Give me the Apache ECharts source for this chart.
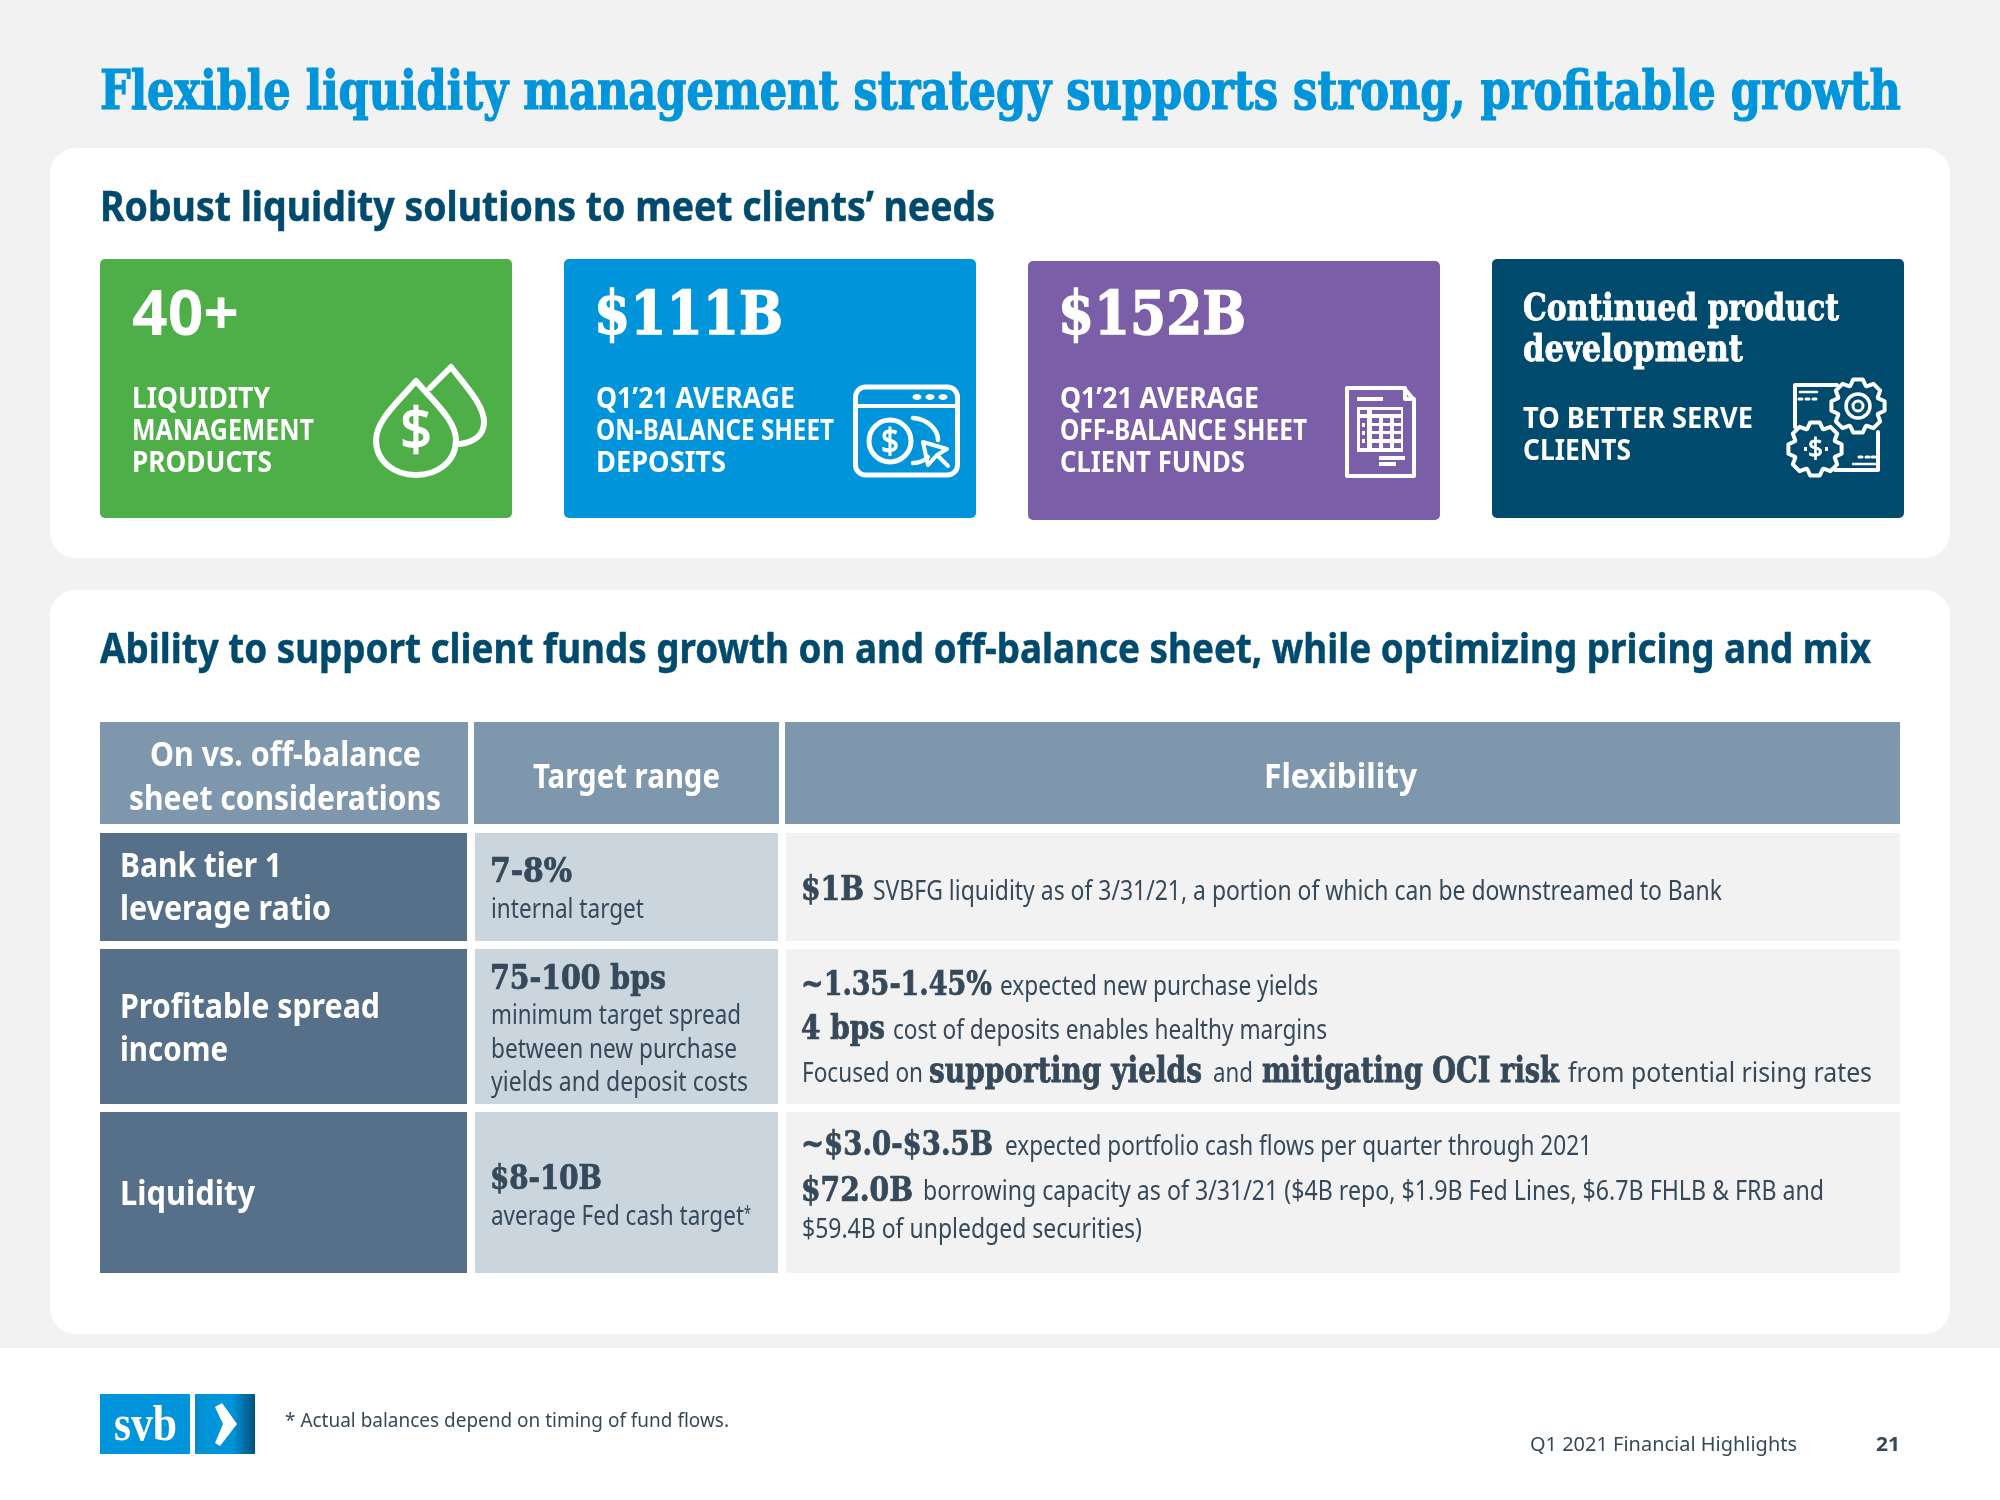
<!DOCTYPE html>
<html>
<head>
<meta charset="utf-8">
<style>html,body{margin:0;padding:0;background:#f2f2f2}#c{width:2000px;height:1500px}</style>
<script src="https://cdn.jsdelivr.net/npm/echarts@6/dist/echarts.min.js"></script>
</head>
<body>
<div id="c"></div>
<script>
// ---------- content ----------
const pageTitle = 'Flexible liquidity management strategy supports strong, profitable growth';
const sectionHeads = ['Robust liquidity solutions to meet clients\u2019 needs',
  'Ability to support client funds growth on and off-balance sheet, while optimizing pricing and mix'];
const cardValues = ['40+', '$111B', '$152B'];
const cardHeadLines = ['Continued product', 'development'];
const cardLabels = ['LIQUIDITY', 'MANAGEMENT', 'PRODUCTS',
  'Q1\u201921 AVERAGE', 'ON-BALANCE SHEET', 'DEPOSITS',
  'Q1\u201921 AVERAGE', 'OFF-BALANCE SHEET', 'CLIENT FUNDS',
  'TO BETTER SERVE', 'CLIENTS'];
const tableHeaders = ['On vs. off-balance', 'sheet considerations', 'Target range', 'Flexibility'];
const rowTitles = ['Bank tier 1', 'leverage ratio', 'Profitable spread', 'income', 'Liquidity'];
const targetValues = ['7-8%', '75-100 bps', '$8-10B'];
const targetNotes = ['internal target', 'minimum target spread', 'between new purchase',
  'yields and deposit costs', 'average Fed cash target'];
const flexBold = ['$1B', '~1.35-1.45%', '4 bps', 'supporting yields', 'mitigating OCI risk', '~$3.0-$3.5B', '$72.0B'];
const flexPlain = ['SVBFG liquidity as of 3/31/21, a portion of which can be downstreamed to Bank',
  'expected new purchase yields', 'cost of deposits enables healthy margins',
  'Focused on', 'and', 'from potential rising rates',
  'expected portfolio cash flows per quarter through 2021',
  'borrowing capacity as of 3/31/21 ($4B repo, $1.9B Fed Lines, $6.7B FHLB & FRB and',
  '$59.4B of unpledged securities)'];
const footerNote = '* Actual balances depend on timing of fund flows.';
const footerRight = ['Q1 2021 Financial Highlights', '21'];
const logoText = 'svb';

// ---------- helpers ----------
const SANS = '"Noto Sans"', SLAB = '"DejaVu Serif Condensed","DejaVu Serif"';
const els = [];
const mctx = document.createElement('canvas').getContext('2d');
function txt(s, weight, size, fam, x0, x1, base, fill, strokeW) {
  const font = weight + ' ' + size + 'px ' + fam;
  mctx.font = font; mctx.textBaseline = 'middle';
  const m = mctx.measureText(s);
  const d = mctx.measureText('H').actualBoundingBoxDescent;
  const sw = strokeW != null ? strokeW : (fam === SLAB ? size * 0.022 : 0);
  const style = {text:s, font:font, fill:fill, align:'left', verticalAlign:'middle', lineHeight:size};
  if (sw) { style.stroke = fill; style.lineWidth = sw; }
  els.push({type:'text', silent:true, x:x0, y:base - d, scaleX:(x1 - x0) / m.width, style:style});
}
function box(x0, y0, x1, y1, fill, r) {
  els.push({type:'rect', silent:true, shape:{x:x0, y:y0, width:x1 - x0, height:y1 - y0, r:r || 0}, style:{fill:fill}});
}
let shapeId = 0;
function path(d, lw, stroke, fill) {
  const name = 'iconShape' + (shapeId++);
  echarts.graphic.registerShape(name, echarts.graphic.extendPath(d));
  els.push({type:name, silent:true, style:{stroke:stroke || '#fff', lineWidth:lw, fill:fill || 'none', lineJoin:'round', lineCap:'round'}});
}
function circle(cx, cy, r, lw, fill) {
  els.push({type:'circle', silent:true, shape:{cx:cx, cy:cy, r:r},
    style: lw ? {stroke:'#fff', lineWidth:lw, fill:'none'} : {fill:fill || '#fff'}});
}
function gear(cx, cy, rO, rI, n) {
  let d = '';
  for (let i = 0; i < n; i++) {
    const a = i / n * Math.PI * 2 - Math.PI / 2, w = Math.PI / n;
    const pts = [[a - w * 0.95, rI], [a - w * 0.45, rO], [a + w * 0.45, rO], [a + w * 0.95, rI]];
    pts.forEach((p, k) => {
      const X = (cx + p[1] * Math.cos(p[0])).toFixed(1), Y = (cy + p[1] * Math.sin(p[0])).toFixed(1);
      d += (i === 0 && k === 0 ? 'M' : 'L') + X + ' ' + Y + ' ';
    });
  }
  return d + 'Z';
}

// ---------- palette ----------
const BLUE = '#0095da', NAVY = '#004a6e', GREEN = '#4eae47', PURPLE = '#7a5fa8';
const HEAD = '#7f97ac', ROW = '#567089', TARGET = '#cad5de', FLEX = '#f2f2f2', INK = '#36495a', BG = '#f2f2f2';

// ---------- page ----------
box(0, 0, 2000, 1500, BG);
box(0, 1348, 2000, 1500, '#fff');
box(50, 148, 1950, 558, '#fff', 26);
box(50, 590, 1950, 1334, '#fff', 26);

txt(pageTitle, 'bold', 54, SLAB, 100, 1901, 109, BLUE);
txt(sectionHeads[0], 'bold', 42, SANS, 100, 995, 221, NAVY, 0.5);
txt(sectionHeads[1], 'bold', 42, SANS, 100, 1871, 663, NAVY, 0.5);

// cards
box(100, 259, 512, 518, GREEN, 5);
box(564, 259, 976, 518, BLUE, 5);
box(1028, 261, 1440, 520, PURPLE, 5);
box(1492, 259, 1904, 518, NAVY, 5);

txt(cardValues[0], 'bold', 62, SANS, 132, 239, 335, '#fff');
txt(cardValues[1], 'bold', 60, SLAB, 594, 783, 334, '#fff');
txt(cardValues[2], 'bold', 60, SLAB, 1058, 1246, 334, '#fff');
txt(cardHeadLines[0], 'bold', 37, SLAB, 1523, 1839, 320, '#fff');
txt(cardHeadLines[1], 'bold', 37, SLAB, 1523, 1743, 361, '#fff');

txt(cardLabels[0], 'bold', 29, SANS, 132, 270, 408, '#fff');
txt(cardLabels[1], 'bold', 29, SANS, 132, 314, 440, '#fff');
txt(cardLabels[2], 'bold', 29, SANS, 132, 272, 472, '#fff');
txt(cardLabels[3], 'bold', 29, SANS, 596, 795, 408, '#fff');
txt(cardLabels[4], 'bold', 29, SANS, 596, 834, 440, '#fff');
txt(cardLabels[5], 'bold', 29, SANS, 596, 726, 472, '#fff');
txt(cardLabels[6], 'bold', 29, SANS, 1060, 1259, 408, '#fff');
txt(cardLabels[7], 'bold', 29, SANS, 1060, 1307, 440, '#fff');
txt(cardLabels[8], 'bold', 29, SANS, 1060, 1245, 472, '#fff');
txt(cardLabels[9], 'bold', 29, SANS, 1523, 1753, 428, '#fff');
txt(cardLabels[10], 'bold', 29, SANS, 1523, 1631, 460, '#fff');

// droplet icon
path('M451 367 C465 385 484 405 484 422 C484 435 474 442 460 444 M430 388 L451 367', 6);
path('M416 381 C400 400 376 420 376 440 C376 462 395 475 416 475 C437 475 456 462 456 440 C456 420 432 400 416 381 Z', 6);
txt('$', 'normal', 58, SANS, 400, 432, 450, '#fff', 1.5);

// browser icon
els.push({type:'rect', silent:true, shape:{x:855.5, y:387, width:102, height:88, r:10}, style:{stroke:'#fff', lineWidth:5, fill:'none'}});
path('M856 406 L957 406', 4);
[917, 930, 943].forEach(x => {
  els.push({type:'ellipse', silent:true, shape:{cx:x, cy:397, rx:4.5, ry:3}, style:{fill:'#fff'}});
});
circle(890, 441, 21, 5);
txt('$', 'normal', 34, SANS, 881, 899, 453, '#fff', 1);
path('M913 418 C928 419 938 430 938 440 M913 463 C920 463 924 461 928 457', 4.5);
path('M923 442 L947 449 L937 455 L928 465 Z M937 455 L948 466', 4);

// document icon
path('M1347 388 L1404 388 L1414 400 L1414 476 L1347 476 Z M1405 388 L1405 399 L1414 399', 4);
box(1357, 397, 1383, 401, '#fff');
box(1357, 407, 1403, 452, '#fff');
box(1360, 410, 1367, 414, PURPLE);
box(1372, 410, 1401, 414, PURPLE);
[418, 426, 434, 443].forEach(y => {
  [1372, 1383, 1394].forEach(x => box(x, y, x + 7, y + 5, PURPLE));
});
box(1360, 418, 1367, 448, PURPLE);
[423, 431, 439].forEach(y => box(1362, y, 1365, y + 4, '#fff'));
box(1379, 456, 1405, 460, '#fff');
box(1379, 462, 1396, 466, '#fff');

// gears icon
path('M1837 385 L1795 385 L1795 427 M1835 470 L1878 470 L1878 432', 4);
path('M1800 392 L1817 392 M1853 464 L1875 464', 2.5);
path('M1799 399 L1802 399 M1806 399 L1809 399 M1813 399 L1816 399 M1859 457 L1862 457 M1866 457 L1869 457 M1872 457 L1875 457', 3);
path(gear(1858, 406, 27, 21.5, 8), 4, '#fff', NAVY);
circle(1858, 406, 12, 3.5); circle(1858, 406, 5, 3);
path(gear(1815, 449, 27, 21.5, 8), 4, '#fff', NAVY);
txt('$', 'normal', 28, SANS, 1808, 1823, 458, '#fff', 0.8);
box(1804, 447, 1807, 451, '#fff');
box(1825, 447, 1828, 451, '#fff');

// table
box(100, 722, 468, 824, HEAD);
box(474, 722, 779, 824, HEAD);
box(785, 722, 1900, 824, HEAD);
[[833, 941], [949, 1104], [1112, 1273]].forEach(r => {
  box(100, r[0], 467, r[1], ROW);
  box(475, r[0], 778, r[1], TARGET);
  box(786, r[0], 1900, r[1], FLEX);
});
txt(tableHeaders[0], 'bold', 34, SANS, 150, 421, 766, '#fff');
txt(tableHeaders[1], 'bold', 34, SANS, 129, 441, 810, '#fff');
txt(tableHeaders[2], 'bold', 34, SANS, 533, 720, 788, '#fff');
txt(tableHeaders[3], 'bold', 34, SANS, 1264, 1417, 788, '#fff');

txt(rowTitles[0], 'bold', 34, SANS, 120, 282, 877, '#fff');
txt(rowTitles[1], 'bold', 34, SANS, 120, 331, 920, '#fff');
txt(rowTitles[2], 'bold', 34, SANS, 120, 380, 1018, '#fff');
txt(rowTitles[3], 'bold', 34, SANS, 120, 228, 1061, '#fff');
txt(rowTitles[4], 'bold', 34, SANS, 120, 255, 1205, '#fff');

txt(targetValues[0], 'bold', 34, SLAB, 490, 572, 882, INK);
txt(targetValues[1], 'bold', 34, SLAB, 490, 666, 989, INK);
txt(targetValues[2], 'bold', 34, SLAB, 490, 602, 1189, INK);
txt(targetNotes[0], 'normal', 28, SANS, 491, 644, 918, INK);
txt(targetNotes[1], 'normal', 28, SANS, 491, 741, 1024, INK);
txt(targetNotes[2], 'normal', 28, SANS, 491, 737, 1058, INK);
txt(targetNotes[3], 'normal', 28, SANS, 491, 748, 1091, INK);
txt(targetNotes[4], 'normal', 28, SANS, 491, 744, 1225, INK);
txt('*', 'normal', 20, SANS, 744, 751, 1220, INK);

txt(flexBold[0], 'bold', 33, SLAB, 801, 864, 900, INK);
txt(flexPlain[0], 'normal', 27, SANS, 873, 1722, 900, INK);
txt(flexBold[1], 'bold', 33, SLAB, 801, 992, 995, INK);
txt(flexPlain[1], 'normal', 27, SANS, 1000, 1318, 995, INK);
txt(flexBold[2], 'bold', 33, SLAB, 801, 885, 1039, INK);
txt(flexPlain[2], 'normal', 27, SANS, 893, 1327, 1039, INK);
txt(flexPlain[3], 'normal', 27, SANS, 802, 923, 1082, INK);
txt(flexBold[3], 'bold', 36, SLAB, 929, 1202, 1082, INK);
txt(flexPlain[4], 'normal', 27, SANS, 1213, 1253, 1082, INK);
txt(flexBold[4], 'bold', 36, SLAB, 1262, 1559, 1082, INK);
txt(flexPlain[5], 'normal', 27, SANS, 1568, 1872, 1082, INK);
txt(flexBold[5], 'bold', 33, SLAB, 801, 993, 1155, INK);
txt(flexPlain[6], 'normal', 27, SANS, 1005, 1592, 1155, INK);
txt(flexBold[6], 'bold', 33, SLAB, 801, 913, 1200.5, INK);
txt(flexPlain[7], 'normal', 27, SANS, 923, 1824, 1200, INK);
txt(flexPlain[8], 'normal', 27, SANS, 802, 1142, 1238, INK);

// footer
box(100, 1394, 190, 1454, BLUE);
els.push({type:'rect', silent:true, shape:{x:195, y:1394, width:60, height:60},
  style:{fill:{type:'linear', x:0, y:0, x2:1, y2:0, colorStops:[{offset:0, color:'#0a88c6'},{offset:0.15, color:BLUE},{offset:0.62, color:BLUE},{offset:1, color:'#02507a'}]}}});
txt(logoText, 'bold', 50, '"Liberation Serif"', 114, 177, 1440, '#fff');
els.push({type:'polygon', silent:true, shape:{points:[[215,1407],[222,1403],[237,1424],[220,1446],[215,1443],[223,1424]]}, style:{fill:'#fff'}});
txt(footerNote, 'normal', 20, SANS, 285, 729, 1427, INK);
txt(footerRight[0], 'normal', 20, SANS, 1530, 1797, 1451, INK);
txt(footerRight[1], 'bold', 20, SANS, 1876, 1900, 1451, INK);

const chart = echarts.init(document.getElementById('c'), null, {renderer:'canvas', width:2000, height:1500});
chart.setOption({animation:false, backgroundColor:BG, graphic:{elements:els}});
</script>
</body>
</html>
